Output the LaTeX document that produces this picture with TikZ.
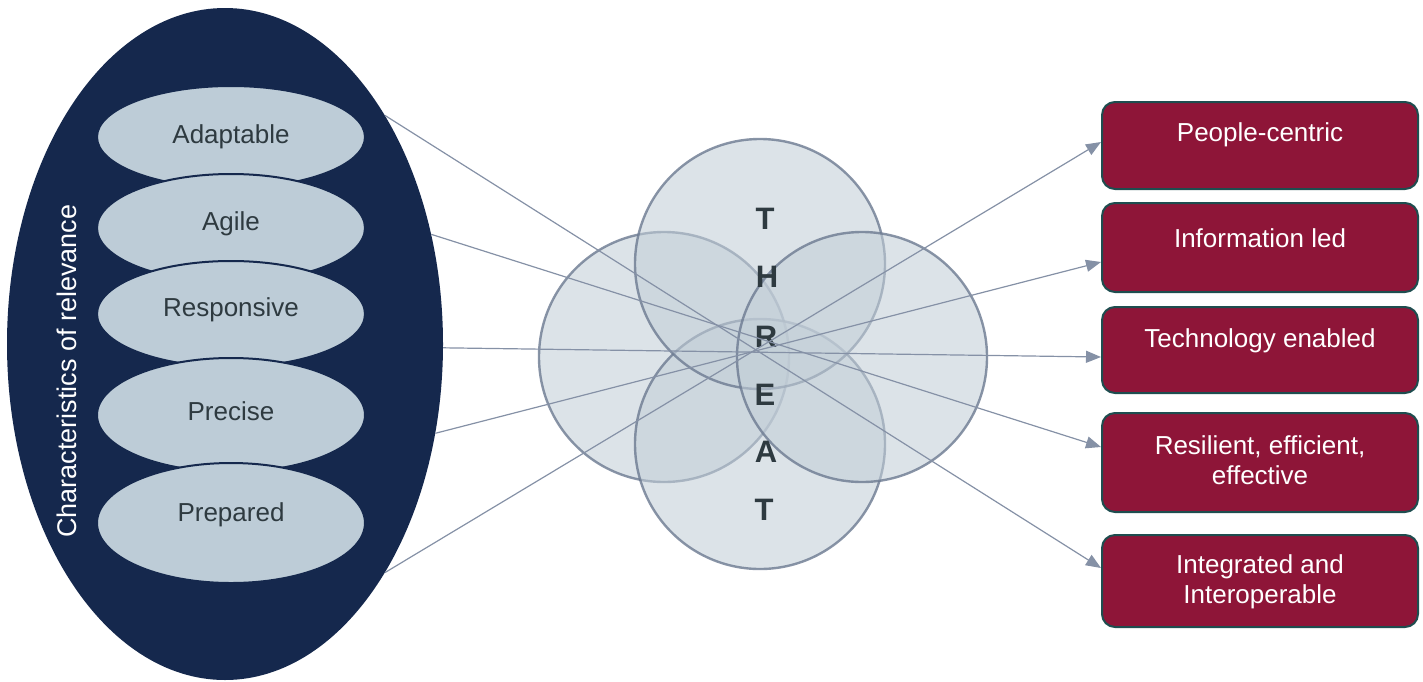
\documentclass[tikz,border=0pt]{standalone}
\usepackage{fontspec}
\setmainfont{Liberation Sans}
\usetikzlibrary{arrows.meta,calc,shapes.geometric}
\definecolor{navy}{HTML}{15284D}
\definecolor{traitfill}{HTML}{BDCCD7}
\definecolor{traittext}{HTML}{2E3A40}
\definecolor{ringfill}{HTML}{C2CED7}
\definecolor{ringedge}{HTML}{6C7A91}
\definecolor{boxfill}{HTML}{8E1538}
\definecolor{boxedge}{HTML}{1E4D4F}
\definecolor{linkcol}{HTML}{8591A6}
\begin{document}
\begin{tikzpicture}[x=1pt,y=-1pt,
  lbl/.style={font=\fontsize{26}{30}\selectfont},
  trait/.style={ellipse,draw=navy,line width=2pt,fill=traitfill,
    minimum width=268,inner sep=0pt},
  traitlbl/.style={lbl,text=traittext},
  ring/.style={circle,minimum size=250,inner sep=0pt,fill=ringfill,
    fill opacity=0.57,draw=ringedge,draw opacity=0.8,line width=2.4pt},
  letter/.style={font=\fontsize{31}{32}\selectfont\bfseries,text=traittext},
  goal/.style={rectangle,rounded corners=13pt,fill=boxfill,draw=boxedge,
    line width=2pt,minimum width=316,inner sep=0pt},
  goallbl/.style={lbl,text=white,align=center},
  link/.style={draw=linkcol,line width=1.2pt,
    -{Triangle[length=15pt,width=12pt]}}]
\useasboundingbox (0,0) rectangle (1423,681);

% Characteristics of relevance
\node[ellipse,fill=navy,minimum width=436,minimum height=672,inner sep=0pt]
  (big) at (225,344) {};
\node[text=white,rotate=90,font=\fontsize{27}{30}\selectfont]
  (bigtitle) at (67,371) {Characteristics of relevance};

\node[trait,minimum height=102] (adapt) at (231,137) {};
\node[traitlbl] (adaptl) at (231,137) {Adaptable};
\node[trait,minimum height=108] (agile) at (231,228) {};
\node[traitlbl] (agilel) at (231,224) {Agile};
\node[trait,minimum height=106] (resp) at (231,314) {};
\node[traitlbl] (respl) at (231,310) {Responsive};
\node[trait,minimum height=114] (prec) at (231,415) {};
\node[traitlbl] (precl) at (231,411) {Precise};
\node[trait,minimum height=120] (prep) at (231,523) {};
\node[traitlbl] (prepl) at (231,515) {Prepared};

% THREAT rings
\node[ring] (rl) at (664,357) {};
\node[ring] (rb) at (760,444) {};
\node[ring] (rt) at (760,264) {};
\node[ring] (rr) at (862,357) {};
\node[letter] (l1) at (765,219) {T};
\node[letter] (l2) at (767,277) {H};
\node[letter] (l3) at (766,337) {R};
\node[letter] (l4) at (765,395) {E};
\node[letter] (l5) at (766,452) {A};
\node[letter] (l6) at (764,510) {T};

% Outcomes
\node[goal,minimum height=87] (ppl) at (1260,145.5) {};
\node[goallbl] (ppll) at (1260,135) {People-centric};
\node[goal,minimum height=89] (info) at (1260,247.5) {};
\node[goallbl] (infol) at (1260,238) {Information led};
\node[goal,minimum height=86] (tech) at (1260,350) {};
\node[goallbl] (techl) at (1260,341) {Technology enabled};
\node[goal,minimum height=99] (res) at (1260,462.5) {};
\node[goallbl] (resl) at (1260,460.5) {Resilient, efficient,\\effective};
\node[goal,minimum height=92] (integ) at (1260,581) {};
\node[goallbl] (integl) at (1260,582) {Integrated and\\Interoperable};

% Connectors
\draw[link] (big.55.6) -- ($(integ.west)+(0,-13)$);
\draw[link] (big.28.2) -- ($(res.west)+(0,-15.5)$);
\draw[link] (big.-1) -- ($(tech.west)+(0,7)$);
\draw[link] (big.-23.9) -- ($(info.west)+(0,14.5)$);
\draw[link] (big.-55) -- ($(ppl.west)+(0,-3.5)$);
\end{tikzpicture}
\end{document}
